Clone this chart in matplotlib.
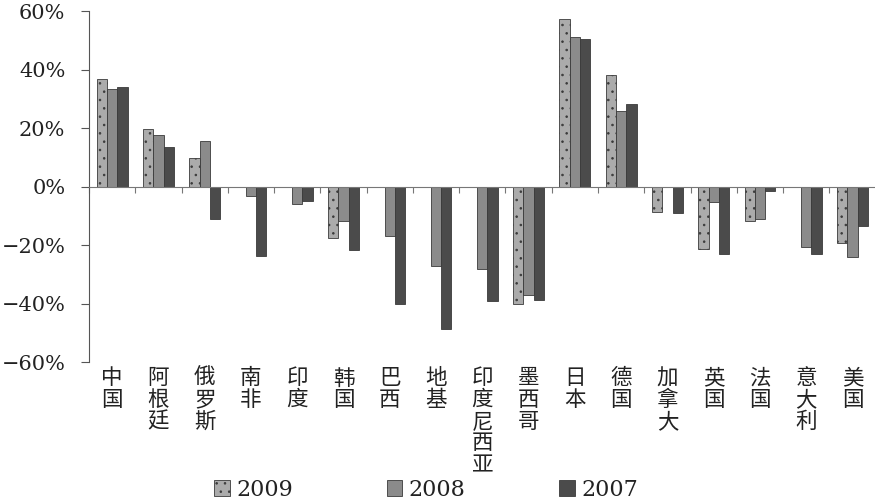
import matplotlib
matplotlib.use("Agg")
import matplotlib.pyplot as plt
import matplotlib.transforms as mtransforms
from matplotlib.ticker import FixedLocator, FuncFormatter
import numpy as np

countries = ["中国", "阿根廷", "俄罗斯", "南非", "印度", "韩国", "巴西", "地基",
             "印度尼西亚", "墨西哥", "日本", "德国", "加拿大", "英国", "法国", "意大利", "美国"]
years = ["2009", "2008", "2007"]
v2009 = [36.7, 19.6, 9.7, np.nan, np.nan, -17.6, np.nan, np.nan,
         np.nan, -40.1, 57.3, 38.3, -8.6, -21.4, -11.9, np.nan, -19.2]
v2008 = [33.4, 17.8, 15.5, -3.3, -6.1, -11.6, -16.9, -27.2,
         -28.3, -37.1, 51.0, 25.8, np.nan, -5.4, -11.2, -20.5, -24.2]
v2007 = [34.2, 13.6, -11.0, -23.8, -5.0, -21.5, -40.1, -48.7,
         -39.0, -38.7, 50.5, 28.3, -9.1, -23.1, -1.6, -23.1, -13.6]
yticks = [-60, -40, -20, 0, 20, 40, 60]

series = [v2009, v2008, v2007]
colors = ["#ababab", "#8b8b8b", "#4b4b4b"]
hatches = ["..", None, None]

plt.rcParams["hatch.color"] = "#555555"
plt.rcParams["hatch.linewidth"] = 0.6
serif = ["DejaVu Serif"]
cjk = ["Noto Sans CJK SC", "DejaVu Sans"]

fig = plt.figure(figsize=(8.75, 5.03), dpi=100)
ax = fig.add_axes([0.1017, 0.280, 0.899, 0.698])

n = len(countries)
x = np.arange(n)
w = 0.222
handles = []
for i, (vals, c, h) in enumerate(zip(series, colors, hatches)):
    b = ax.bar(x + (i - 1) * w, vals, width=w, color=c, edgecolor="#3a3a3a",
               linewidth=0.6, hatch=h, label=years[i])
    handles.append(b)

ax.set_xlim(-0.5, n - 0.5)
ax.set_ylim(-60, 60)
ax.yaxis.set_major_locator(FixedLocator(yticks))
ax.yaxis.set_major_formatter(
    FuncFormatter(lambda v, p: f"{int(v)}%".replace("-", "\u2212")))
ax.tick_params(axis="y", labelsize=15, length=6, width=0.8, color="#555555",
               labelcolor="#222222", pad=11)
for lab in ax.get_yticklabels():
    lab.set_fontfamily(serif)

# x axis drawn at zero, with ticks at category boundaries
ax.spines["bottom"].set_position(("data", 0))
ax.spines["bottom"].set_color("#777777")
ax.spines["left"].set_color("#555555")
ax.spines["top"].set_visible(False)
ax.spines["right"].set_visible(False)
ax.xaxis.set_major_locator(FixedLocator(np.arange(n + 1) - 0.5))
ax.xaxis.set_major_formatter(FuncFormatter(lambda v, p: ""))
ax.tick_params(axis="x", direction="out", length=4, width=0.8, color="#777777")

# vertical category labels below the plot
trans = mtransforms.blended_transform_factory(ax.transData, ax.transAxes)
for xi, name in zip(x, countries):
    ax.text(xi, -0.015, "\n".join(name), transform=trans, ha="center", va="top",
            fontsize=15.5, family=cjk, color="#222222", linespacing=0.98,
            clip_on=False)

leg = fig.legend(handles=handles, labels=years, loc="center",
                 bbox_to_anchor=(0.487, 0.026), ncol=3, frameon=False,
                 handlelength=0.7, handleheight=0.7, handletextpad=0.3,
                 columnspacing=4.2, borderpad=0.1,
                 prop={"family": serif, "size": 16})
for t in leg.get_texts():
    t.set_color("#222222")

fig.savefig("out.png", dpi=100)
